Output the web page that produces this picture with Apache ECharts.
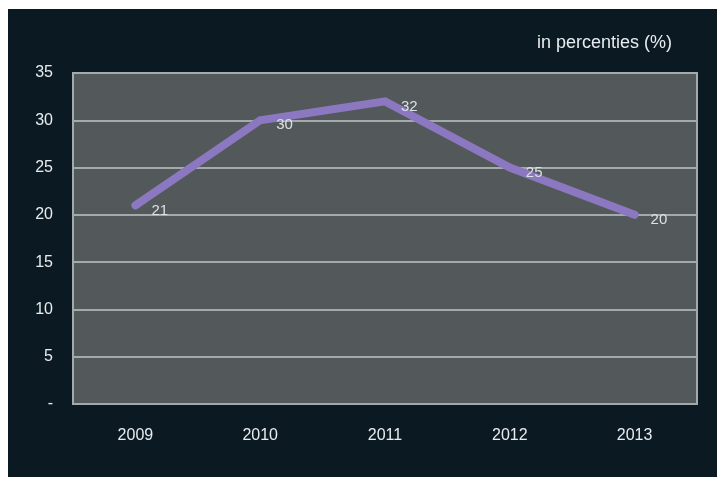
<!DOCTYPE html>
<html>
<head>
<meta charset="utf-8">
<script src="https://cdn.jsdelivr.net/npm/echarts@6/dist/echarts.min.js"></script>
<style>
  html, body { margin: 0; padding: 0; background: #ffffff; }
  #chart { width: 721px; height: 477px; }
</style>
</head>
<body>
<div id="chart"></div>
<script>
// Annual share, in percent
const years = ['2009', '2010', '2011', '2012', '2013'];
const shares = [21, 30, 32, 25, 20];
const unitNote = 'in percenties (%)';

const chart = echarts.init(document.getElementById('chart'), null, { renderer: 'canvas' });

const labelFont = 'Liberation Sans, Arial, sans-serif';

chart.setOption({
  backgroundColor: '#ffffff',
  animation: false,
  graphic: [
    {
      type: 'rect',
      left: 8, top: 9,
      shape: { width: 709, height: 470 },
      style: { fill: '#0b1a22' },
      z: -10
    },
    {
      type: 'text',
      right: 49, top: 34,
      style: {
        text: unitNote,
        fill: '#e8ecee',
        font: '18px ' + labelFont
      }
    }
  ],
  grid: {
    left: 73, top: 73, width: 624, height: 331,
    show: true,
    backgroundColor: '#53585a',
    borderColor: '#a3aaac',
    borderWidth: 2
  },
  xAxis: {
    type: 'category',
    data: years,
    boundaryGap: true,
    axisLine: { show: false },
    axisTick: { show: false },
    axisLabel: {
      color: '#e8ecee',
      fontFamily: labelFont,
      fontSize: 16,
      margin: 24
    },
    splitLine: { show: false }
  },
  yAxis: {
    type: 'value',
    min: 0, max: 35, interval: 5,
    axisLine: { show: false },
    axisTick: { show: false },
    axisLabel: {
      color: '#e8ecee',
      fontFamily: labelFont,
      fontSize: 16,
      margin: 20,
      formatter: v => (v === 0 ? '-' : String(v))
    },
    splitLine: { lineStyle: { color: '#a3aaac', width: 2 } }
  },
  series: [{
    type: 'line',
    data: shares,
    symbol: 'circle',
    symbolSize: 0,
    itemStyle: { color: '#8b78c0' },
    lineStyle: { color: '#8b78c0', width: 8, cap: 'round', join: 'miter' },
    label: {
      show: true,
      position: 'right',
      distance: 16,
      offset: [0, 5],
      color: '#dde1e3',
      fontFamily: labelFont,
      fontSize: 15
    }
  }]
});
</script>
</body>
</html>
